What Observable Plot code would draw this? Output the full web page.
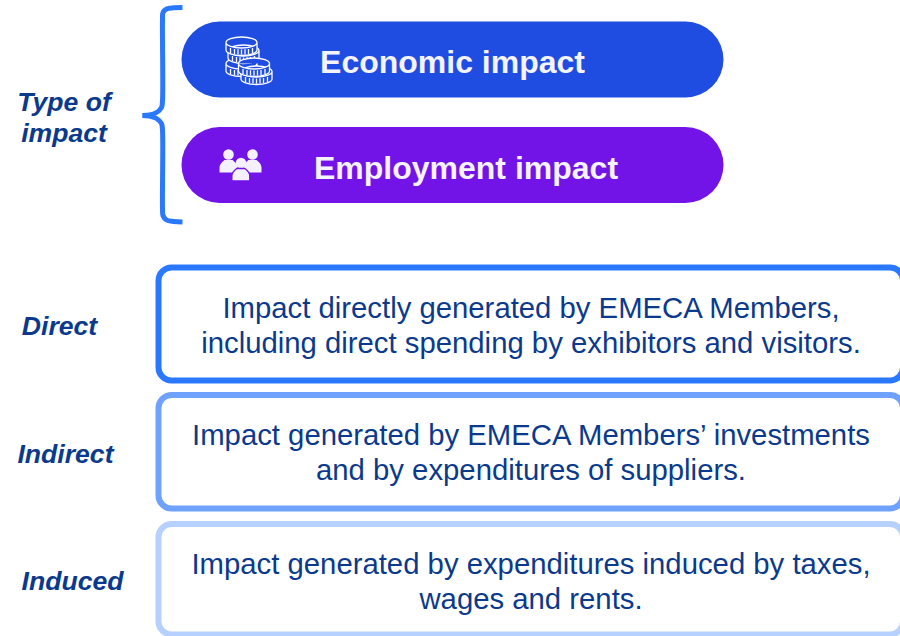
<!DOCTYPE html>
<html><head><meta charset="utf-8">
<script src="https://cdn.jsdelivr.net/npm/d3@7"></script>
<script src="https://cdn.jsdelivr.net/npm/@observablehq/plot@0.6"></script>
<style>html,body{margin:0;padding:0;background:#fff;overflow:hidden}svg{display:block}</style>
</head><body><div id="chart"></div>
<script>
const FONT = '"Liberation Sans", Arial, sans-serif';
const pillNames = ["Economic impact", "Employment impact"];
const pillLeft = [181.5, 181.5], pillRight = [723.5, 723.5];
const pillTop = [21.5, 127], pillBottom = [97.5, 203];
const pillColors = ["#1f4de2", "#7213e8"];
const pillLabelX = [452, 465.5], pillLabelY = [62, 168];

const levelNames = ["Direct", "Indirect", "Induced"];
const levelLabelX = [59, 65, 72], levelLabelY = [325.5, 453.5, 580.5];
const levelDescriptions = [
  "Impact directly generated by EMECA Members,\nincluding direct spending by exhibitors and visitors.",
  "Impact generated by EMECA Members\u2019 investments\nand by expenditures of suppliers.",
  "Impact generated by expenditures induced by taxes,\nwages and rents."
];
const boxLeft = [158.5, 158.5, 158.5], boxRight = [903, 903, 903];
const boxTop = [267.5, 395, 524], boxBottom = [380.5, 508.5, 634.5];
const boxColors = ["#2a78fd", "#6fa1ff", "#b6d0ff"];
const descY = [324, 451, 580];

const bracketTop = [[182,7],[173,7.3],[166,8.5],[162.5,12],[162,20],[162,100],[161,107],[156,112],[149,114.5],[142,115]];
const bracketBottom = [[142,115],[149,115.5],[156,118],[161,123],[162,130],[162,208],[162.5,215],[166,219.5],[173,221],[182,221.5]];

const coins = [[241,63],[243,50],[241,42],[256,71],[253.5,63]];
const heads = [[228,154],[252,154],[240.5,162.5]];
const sideBodies = [[228,172],[252,172]];
const centreBody = [[240.3,180.5]];

const K = 0.5523;
function halfEllipse(c, cy, rx, ry, from, sign) {
  // from = -1 starts on the left, +1 on the right; sign = -1 upper arc, +1 lower arc
  c.bezierCurveTo(from * rx, cy + sign * K * ry, from * K * rx, cy + sign * ry, 0, cy + sign * ry);
  c.bezierCurveTo(-from * K * rx, cy + sign * ry, -from * rx, cy + sign * K * ry, -from * rx, cy);
}
const coinSymbol = {draw(c){
  const rx = 15.5, ry = 5.5, h = 7.5;
  c.moveTo(-rx, 0);
  halfEllipse(c, 0, rx, ry, -1, -1);
  c.lineTo(rx, h);
  halfEllipse(c, h, rx, ry, 1, 1);
  c.closePath();
  c.moveTo(-rx, 0);
  halfEllipse(c, 0, rx, ry, -1, 1);
  for (const t of [-11,-7,-3.5,0,3.5,7,11]) {
    const yy = ry * Math.sqrt(1 - (t*t)/(rx*rx));
    c.moveTo(t, yy + 1.5);
    c.lineTo(t, yy + h - 1);
  }
}};
const bodySymbol = {draw(c){
  const w = 9, h = 12.5;
  c.moveTo(-w, 0);
  c.lineTo(-w, -h * .4);
  c.quadraticCurveTo(-w, -h * .7, -w * .45, -h);
  c.lineTo(w * .45, -h);
  c.quadraticCurveTo(w, -h * .7, w, -h * .4);
  c.lineTo(w, 0);
  c.closePath();
}};
const pts = a => a.map(([x, y]) => ({x, y}));

const idx = a => a.map((_, i) => i);
const plot = Plot.plot({
  width: 900, height: 636, margin: 0,
  x: {domain: [0, 900], range: [0, 900], axis: null},
  y: {domain: [0, 636], range: [0, 636], axis: null},
  style: {background: "#fff", fontFamily: FONT},
  marks: [
    Plot.line(pts(bracketTop), {x: "x", y: "y", stroke: "#2a78fd", strokeWidth: 5, curve: "catmull-rom", strokeLinecap: "butt"}),
    Plot.line(pts(bracketBottom), {x: "x", y: "y", stroke: "#2a78fd", strokeWidth: 5, curve: "catmull-rom", strokeLinecap: "butt"}),
    Plot.rect(idx(pillNames), {
      x1: i => pillLeft[i], x2: i => pillRight[i], y1: i => pillTop[i], y2: i => pillBottom[i],
      fill: i => pillColors[i], rx: 38, ry: 38
    }),
    Plot.text(idx(pillNames), {
      x: i => pillLabelX[i], y: i => pillLabelY[i], text: i => pillNames[i],
      fill: "#f4f2fb", fontSize: 32, fontWeight: "bold", fontFamily: FONT
    }),
    Plot.dot(pts(coins), {x: "x", y: "y", r: 10, symbol: coinSymbol, fill: "#1f4de2", stroke: "#fff", strokeWidth: 1.3}),
    Plot.dot(pts(heads), {x: "x", y: "y", r: 5.3, fill: "#f4f0fc"}),
    Plot.dot(pts(sideBodies), {x: "x", y: "y", r: 10, symbol: bodySymbol, fill: "#f4f0fc"}),
    Plot.dot(pts(centreBody), {x: "x", y: "y", r: 10, symbol: bodySymbol, fill: "#f4f0fc", stroke: "#7213e8", strokeWidth: 1.4}),
    Plot.rect(idx(levelNames), {
      x1: i => boxLeft[i], x2: i => boxRight[i], y1: i => boxTop[i], y2: i => boxBottom[i],
      fill: "#fff", stroke: i => boxColors[i], strokeWidth: 6, rx: 13, ry: 13
    }),
    Plot.text(idx(levelNames), {
      x: 530.5, y: i => descY[i], text: i => levelDescriptions[i],
      fill: "#0b3a8d", fontSize: 29.3, lineHeight: 1.195, fontFamily: FONT
    }),
    Plot.text(levelNames, {
      x: (_, i) => levelLabelX[i], y: (_, i) => levelLabelY[i], text: d => d,
      fill: "#0b3a8d", fontSize: 26.6, fontWeight: "bold", fontStyle: "italic", fontFamily: FONT
    }),
    Plot.text(["Type of\nimpact"], {
      x: 63.5, y: 116, text: d => d, fill: "#0b3a8d", fontSize: 26.6, lineHeight: 1.19,
      fontWeight: "bold", fontStyle: "italic", fontFamily: FONT
    })
  ]
});
document.getElementById("chart").append(plot);
</script></body></html>
